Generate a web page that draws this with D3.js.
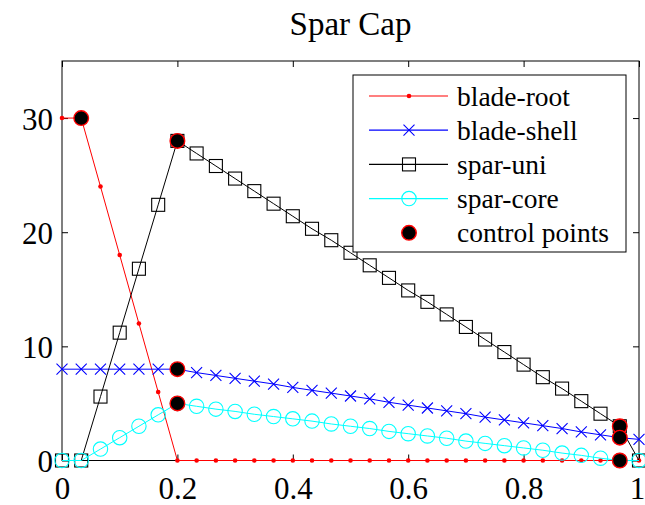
<!DOCTYPE html>
<html>
<head>
<meta charset="utf-8">
<script src="https://cdn.jsdelivr.net/npm/d3@7"></script>
</head>
<body style="margin:0">
<svg id="chart" width="645" height="505" font-family="Liberation Serif" style="display:block;font-family:'Liberation Serif'"></svg>
<script>
// Span-wise stations along the blade (normalised)
const stations = [0, 0.0333, 0.0667, 0.1, 0.1333, 0.1667, 0.2, 0.2333, 0.2667, 0.3, 0.3333,
  0.3667, 0.4, 0.4333, 0.4667, 0.5, 0.5333, 0.5667, 0.6, 0.6333, 0.6667, 0.7, 0.7333,
  0.7667, 0.8, 0.8333, 0.8667, 0.9, 0.9333, 0.9667, 1];

// Layer counts per material at each station
const bladeRoot = [30, 30, 24, 18, 12, 6, 0, 0, 0, 0, 0, 0, 0, 0, 0, 0, 0, 0, 0, 0, 0, 0, 0,
  0, 0, 0, 0, 0, 0, 0, 0];
const bladeShell = [8, 8, 8, 8, 8, 8, 8, 7.7, 7.45, 7.2, 6.95, 6.7, 6.4, 6.15, 5.9, 5.65, 5.4,
  5.1, 4.85, 4.6, 4.35, 4.1, 3.8, 3.55, 3.3, 3.05, 2.8, 2.5, 2.25, 2.0, 1.85];
const sparUni = [0, 0, 5.6, 11.2, 16.8, 22.4, 28, 26.9, 25.8, 24.7, 23.6, 22.5, 21.4, 20.3,
  19.3, 18.2, 17.1, 16.0, 14.9, 13.9, 12.8, 11.7, 10.6, 9.5, 8.4, 7.3, 6.3, 5.2, 4.1, 3.0, 0];
const sparCore = [0, 0, 1, 2, 3, 4, 5, 4.75, 4.5, 4.3, 4.05, 3.85, 3.65, 3.45, 3.2, 3.0, 2.8,
  2.55, 2.35, 2.15, 1.95, 1.7, 1.5, 1.3, 1.1, 0.9, 0.65, 0.45, 0.2, 0, 0];

// Control points used to define the distributions
const controlX = [0.0333, 0.2, 0.2, 0.2, 0.9667, 0.9667, 0.9667];
const controlY = [30, 28, 8, 5, 3, 2, 0];

const xTicks = [0, 0.2, 0.4, 0.6, 0.8, 1];
const xTickLabels = ["0", "0.2", "0.4", "0.6", "0.8", "1"];
const yTicks = [0, 10, 20, 30];
const yTickLabels = ["0", "10", "20", "30"];

const seriesNames = ["blade-root", "blade-shell", "spar-uni", "spar-core"];
const seriesColors = ["#ff0000", "#0000ff", "#000000", "#00ffff"];
const seriesMarkers = ["dot", "cross", "square", "circle"];
const seriesValues = [bladeRoot, bladeShell, sparUni, sparCore];

const FONT = "Liberation Serif";

const svg = d3.select("#chart");
const plot = { left: 62, right: 639, top: 61, bottom: 460.5 };

const x = d3.scaleLinear().domain([0, 1]).range([plot.left, plot.right]);
const y = d3.scaleLinear().domain([0, 35]).range([plot.bottom, plot.top]);

function serifText(sel, size) {
  return sel.attr("font-family", FONT).style("font-family", FONT)
    .attr("font-size", size).style("font-size", size + "px").attr("fill", "#000");
}

// Title
serifText(svg.append("text"), 33)
  .attr("x", (plot.left + plot.right) / 2)
  .attr("y", 35)
  .attr("text-anchor", "middle")
  .text("Spar Cap");

// Axes with inward ticks on all four sides
const fmtX = d => xTickLabels[xTicks.indexOf(d)];
const fmtY = d => yTickLabels[yTicks.indexOf(d)];

const gx = svg.append("g").attr("transform", `translate(0,${plot.bottom})`)
  .call(d3.axisBottom(x).tickValues(xTicks).tickFormat(fmtX).tickSizeInner(-6).tickSizeOuter(0));
gx.selectAll("text").attr("y", 38).attr("dy", null)
  .attr("x", d => (d === 1 ? -2 : 0));

svg.append("g").attr("transform", `translate(0,${plot.top})`)
  .call(d3.axisTop(x).tickValues(xTicks).tickFormat("").tickSizeInner(-6).tickSizeOuter(0));

const gy = svg.append("g").attr("transform", `translate(${plot.left},0)`)
  .call(d3.axisLeft(y).tickValues(yTicks).tickFormat(fmtY).tickSizeInner(-6).tickSizeOuter(0));
gy.selectAll("text").attr("x", -9).attr("dy", null).attr("y", 11);

svg.append("g").attr("transform", `translate(${plot.right},0)`)
  .call(d3.axisRight(y).tickValues(yTicks).tickFormat("").tickSizeInner(-6).tickSizeOuter(0));

svg.selectAll("g").attr("font-family", FONT);
svg.selectAll(".domain").remove();
svg.selectAll(".tick line").attr("stroke", "#000");
serifText(svg.selectAll(".tick text"), 31);

svg.append("rect")
  .attr("x", plot.left).attr("y", plot.top)
  .attr("width", plot.right - plot.left).attr("height", plot.bottom - plot.top)
  .attr("fill", "none").attr("stroke", "#000").attr("stroke-width", 1);

// Marker drawing
function drawMarker(g, kind, color, cx, cy) {
  if (kind === "dot") {
    g.append("circle").attr("cx", cx).attr("cy", cy).attr("r", 2.3).attr("fill", color);
  } else if (kind === "cross") {
    const s = 5.5;
    g.append("path")
      .attr("d", `M${cx - s},${cy - s}L${cx + s},${cy + s}M${cx - s},${cy + s}L${cx + s},${cy - s}`)
      .attr("stroke", color).attr("stroke-width", 1.1).attr("fill", "none");
  } else if (kind === "square") {
    const s = 6.5;
    g.append("rect").attr("x", cx - s).attr("y", cy - s).attr("width", 2 * s).attr("height", 2 * s)
      .attr("stroke", color).attr("stroke-width", 1.1).attr("fill", "none");
  } else if (kind === "circle") {
    g.append("circle").attr("cx", cx).attr("cy", cy).attr("r", 7.2)
      .attr("stroke", color).attr("stroke-width", 1.1).attr("fill", "none");
  } else if (kind === "control") {
    g.append("circle").attr("cx", cx).attr("cy", cy).attr("r", 7.3)
      .attr("stroke", "#ff0000").attr("stroke-width", 1.4).attr("fill", "#000");
  }
}

const line = d3.line().x(d => x(d[0])).y(d => y(d[1]));

seriesValues.forEach((vals, i) => {
  const pts = stations.map((s, j) => [s, vals[j]]);
  const g = svg.append("g");
  g.append("path").attr("d", line(pts))
    .attr("stroke", seriesColors[i]).attr("stroke-width", 1).attr("fill", "none");
  pts.forEach(p => drawMarker(g, seriesMarkers[i], seriesColors[i], x(p[0]), y(p[1])));
});

const gc = svg.append("g");
controlX.forEach((cx, i) => drawMarker(gc, "control", null, x(cx), y(controlY[i])));

// Legend
const legend = { x: 353, y: 75, w: 273, h: 177, row0: 21, rowStep: 34.2 };
const lg = svg.append("g");
lg.append("rect").attr("x", legend.x).attr("y", legend.y).attr("width", legend.w).attr("height", legend.h)
  .attr("fill", "#fff").attr("stroke", "#000").attr("stroke-width", 1);

const legendItems = seriesNames.map((n, i) => ({ name: n, color: seriesColors[i], marker: seriesMarkers[i] }))
  .concat([{ name: "control points", color: null, marker: "control" }]);

legendItems.forEach((it, i) => {
  const ry = legend.y + legend.row0 + i * legend.rowStep;
  if (it.color) {
    lg.append("line").attr("x1", legend.x + 16).attr("x2", legend.x + 95)
      .attr("y1", ry).attr("y2", ry)
      .attr("stroke", it.color).attr("stroke-width", 1.2);
  }
  drawMarker(lg, it.marker, it.color, legend.x + 56, ry);
  serifText(lg.append("text"), 27.5)
    .attr("x", legend.x + 104).attr("y", ry + 9.5)
    .text(it.name);
});
</script>
</body>
</html>
